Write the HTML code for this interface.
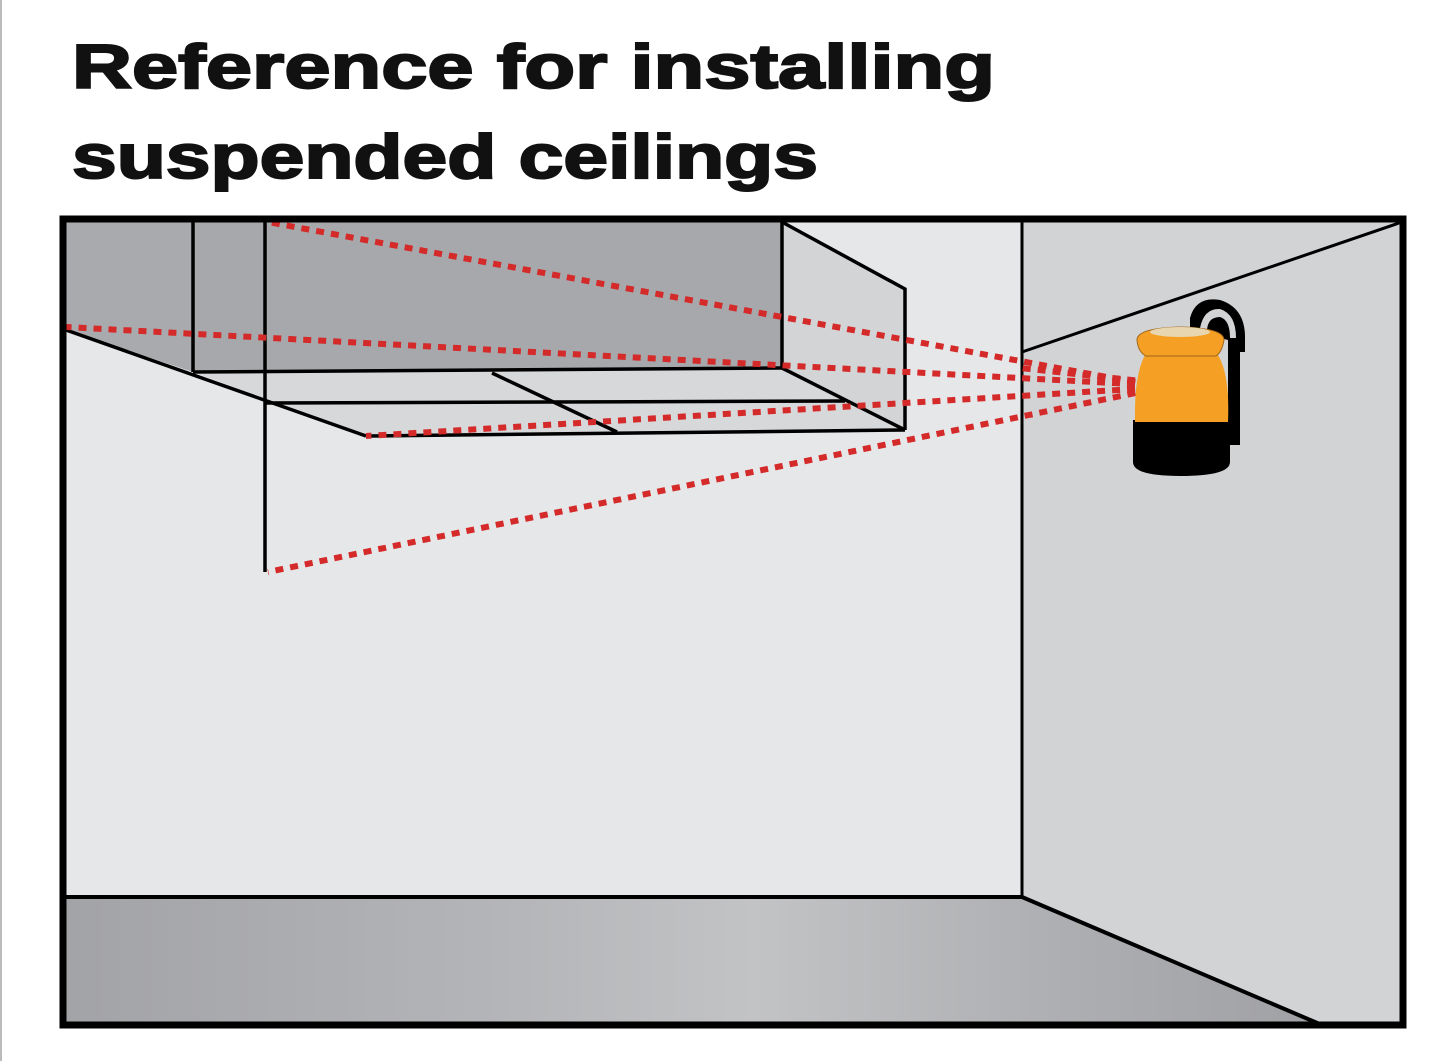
<!DOCTYPE html>
<html><head><meta charset="utf-8"><style>
html,body{margin:0;padding:0;background:#fff;width:1440px;height:1061px;overflow:hidden}
</style></head><body>
<svg width="1440" height="1061" viewBox="0 0 1440 1061" xmlns="http://www.w3.org/2000/svg">
<defs>
<linearGradient id="fl" x1="0" x2="1" y1="0" y2="0">
<stop offset="0" stop-color="#a2a3a6"/><stop offset="0.35" stop-color="#b4b5b8"/>
<stop offset="0.55" stop-color="#c2c3c5"/><stop offset="0.8" stop-color="#adaeb1"/>
<stop offset="1" stop-color="#a0a1a4"/></linearGradient>
</defs>
<line x1="1" y1="0" x2="1" y2="1061" stroke="#bbb" stroke-width="2"/>
<g font-family="Liberation Sans, sans-serif" font-weight="bold" font-size="62" fill="#111" stroke="#111" stroke-width="2" lengthAdjust="spacingAndGlyphs">
<text x="72" y="88" textLength="923" lengthAdjust="spacingAndGlyphs">Reference for installing</text>
<text x="72" y="178" textLength="746" lengthAdjust="spacingAndGlyphs">suspended ceilings</text>
</g>
<!-- walls -->
<rect x="62" y="218" width="962" height="680" fill="#e6e7e8"/>
<rect x="1022" y="218" width="382" height="809" fill="#d2d3d5"/>
<polygon points="62,897 1022,897 1320,1024 62,1024" fill="url(#fl)"/>
<line x1="62" y1="897" x2="1022" y2="897" stroke="#000" stroke-width="4"/>
<line x1="1022" y1="897" x2="1322" y2="1025" stroke="#000" stroke-width="4"/>
<line x1="1022" y1="218" x2="1022" y2="897" stroke="#000" stroke-width="3"/>
<line x1="1022" y1="352" x2="1402" y2="222" stroke="#000" stroke-width="3"/>
<!-- ceiling box -->
<polygon points="66,222 193,222 193,372 66,330" fill="#a9aaad"/>
<polygon points="193,222 782,222 782,368 193,372" fill="#a7a8ab"/>
<polygon points="782,222 905,289 905,430 782,368" fill="#d3d4d6"/>
<polygon points="193,372 782,368 905,430 366,436" fill="#d7d8da"/>
<g stroke="#000" stroke-width="3.5" fill="none">
<line x1="193" y1="222" x2="193" y2="372"/>
<line x1="782" y1="222" x2="782" y2="368"/>
<polyline points="782,222 905,289 905,430"/>
<line x1="193" y1="372" x2="782" y2="368"/>
<line x1="66" y1="330" x2="366" y2="436"/>
<line x1="366" y1="436" x2="905" y2="430"/>
<line x1="782" y1="368" x2="905" y2="430"/>
<line x1="265" y1="403" x2="845" y2="401"/>
<line x1="492" y1="373" x2="617" y2="432"/>
<line x1="265" y1="218" x2="265" y2="572"/>
</g>
<!-- laser lines -->
<g stroke="#d42a2a" stroke-width="6" stroke-dasharray="8 7" fill="none">
<line x1="1150" y1="385" x2="268" y2="222"/>
<line x1="1150" y1="385" x2="66" y2="327"/>
<line x1="1150" y1="388" x2="366" y2="436"/>
<line x1="1150" y1="390" x2="268" y2="572"/>
<line x1="1150" y1="382" x2="1020" y2="368"/>
</g>
<rect x="1158" y="376" width="10" height="6" fill="#d42a2a"/>
<rect x="1158" y="386" width="10" height="6" fill="#d42a2a"/>
<!-- device -->
<path d="M1190,330 L1190,318 Q1196,296 1220,300 Q1246,308 1245,340 L1245,352 L1240,352 L1240,445 L1228,445 L1228,340 Z" fill="#000"/>
<path d="M1200,328 Q1204,308 1220,309 Q1236,314 1236,338 L1230,338 Q1230,320 1220,317 Q1208,317 1207,330 Z" fill="#d2d3d5"/>
<path d="M1133,420 L1133,462 Q1133,476 1180,476 Q1230,476 1230,462 L1230,420 Z" fill="#000"/>
<path d="M1145,355 Q1134,375 1135,422 L1228,422 Q1230,375 1218,355 Z" fill="#f5a024"/>
<path d="M1137,340 Q1137,328 1180,327 Q1224,328 1224,340 Q1222,352 1216,356 L1146,356 Q1138,352 1137,340 Z" fill="#f5a024" stroke="#a0661a" stroke-width="1"/>
<ellipse cx="1180" cy="332" rx="30" ry="5" fill="#e8d6b0"/>
<!-- frame -->
<rect x="63" y="219" width="1340" height="806" fill="none" stroke="#000" stroke-width="7"/>
</svg>
</body></html>
